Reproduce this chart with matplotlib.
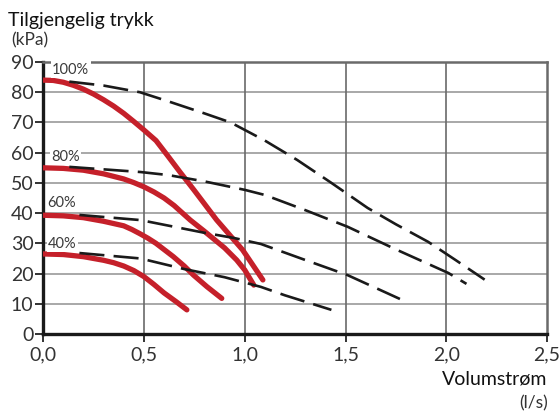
import matplotlib.pyplot as plt

plt.rcParams['font.family'] = ['Lato', 'DejaVu Sans']

# pump curves (red) per speed
red100_x = [0, 0.05, 0.1, 0.15, 0.2, 0.25, 0.3, 0.35, 0.4, 0.45, 0.5, 0.56, 0.62, 0.68, 0.75, 0.86, 0.99, 1.09]
red100_y = [84, 83.9, 83.3, 82.3, 81, 79.4, 77.5, 75.4, 73, 70.3, 67.5, 64, 58.8, 53.5, 47.5, 37.8, 27.8, 17.9]
red80_x = [0, 0.1, 0.2, 0.3, 0.4, 0.45, 0.5, 0.55, 0.6, 0.65, 0.73, 0.8, 0.9, 0.96, 1.0, 1.045]
red80_y = [55, 54.8, 54.2, 53, 51.3, 50.1, 48.7, 47, 45, 42.5, 37.7, 34, 28.5, 24.5, 21.2, 16.2]
red60_x = [0, 0.1, 0.2, 0.3, 0.4, 0.44, 0.48, 0.52, 0.56, 0.646, 0.7, 0.746, 0.812, 0.886]
red60_y = [39.3, 39.1, 38.5, 37.3, 35.8, 34.6, 33.2, 31.7, 30.0, 25.6, 22.5, 19.5, 15.7, 11.8]
red40_x = [0, 0.1, 0.2, 0.3, 0.35, 0.4, 0.45, 0.5, 0.55, 0.6, 0.66, 0.713]
red40_y = [26.5, 26.3, 25.6, 24.4, 23.6, 22.5, 21.0, 19.0, 16.4, 13.6, 10.7, 8]

# dashed curves per speed
dash100_x = [0.13, 0.3, 0.48, 0.62, 0.8, 0.93, 1.1, 1.26, 1.43, 1.61, 1.75, 1.91, 2.05, 2.19]
dash100_y = [83.5, 82.2, 80, 77, 73, 70, 64, 57.6, 50, 41.7, 36.3, 30.5, 24.3, 18]
dash80_x = [0.13, 0.483, 0.62, 0.8, 1.0, 1.1, 1.3, 1.51, 1.75, 2.01, 2.1]
dash80_y = [55.3, 53.6, 52.6, 50.5, 47.7, 46, 41, 35.5, 28, 20.2, 16.6]
dash60_x = [0.18, 0.483, 0.8, 0.945, 1.08, 1.3, 1.51, 1.77]
dash60_y = [39.4, 37.7, 33.5, 31.8, 29.8, 24.5, 19.5, 11.6]
dash40_x = [0.18, 0.483, 0.7, 0.9, 1.08, 1.2, 1.43]
dash40_y = [26.8, 25.0, 21.5, 18.8, 15.6, 12.8, 8]

speed_labels = ['100%', '80%', '60%', '40%']
label_x = [0.045, 0.04, 0.02, 0.025]
label_y = [87.4, 58.6, 43.4, 29.8]

xticks = [0, 0.5, 1.0, 1.5, 2.0, 2.5]
xticklabels = ['0,0', '0,5', '1,0', '1,5', '2,0', '2,5']
yticks = list(range(0, 100, 10))

red = '#c5202a'
ink = '#333333'

fig = plt.figure(figsize=(5.6, 4.16), dpi=100)
ax = fig.add_axes([0.077, 0.197, 0.9, 0.654])
ax.set_xlim(0, 2.5)
ax.set_ylim(0, 90)

# grid
for yv in yticks[1:-1]:
    ax.axhline(yv, color='#9a9a9a', lw=1.2, zorder=1)
for xv in xticks[1:-1]:
    ax.axvline(xv, color='#6a6a6a', lw=1.2, zorder=1)

for xs, ys in [(red100_x, red100_y), (red80_x, red80_y), (red60_x, red60_y), (red40_x, red40_y)]:
    ax.plot(xs, ys, color=red, lw=3.8, solid_capstyle='round', solid_joinstyle='round', zorder=3)
for xs, ys in [(dash100_x, dash100_y), (dash80_x, dash80_y), (dash60_x, dash60_y), (dash40_x, dash40_y)]:
    ax.plot(xs, ys, color='#1a1a1a', lw=1.9, dashes=(9.5, 3.5), zorder=4)

for t, lx, ly in zip(speed_labels, label_x, label_y):
    ax.text(lx, ly, t, fontsize=10.5, color='#3a3a3a', va='center', ha='left', zorder=5,
            bbox=dict(facecolor='white', edgecolor='none', pad=1.0))

ax.set_xticks(xticks)
ax.set_xticklabels(xticklabels)
ax.set_yticks(yticks)
ax.tick_params(axis='both', labelsize=14, colors=ink, length=6, width=1.4, pad=1)
ax.tick_params(axis='x', pad=3)

for side in ['left', 'bottom']:
    ax.spines[side].set_color('#1a1a1a')
    ax.spines[side].set_linewidth(2.4)
for side in ['top', 'right']:
    ax.spines[side].set_color('#6a6a6a')
    ax.spines[side].set_linewidth(1.8)

fig.text(0.014, 0.950, 'Tilgjengelig trykk', fontsize=14, color='#111111', ha='left', va='center')
fig.text(0.02, 0.902, '(kPa)', fontsize=12.5, color=ink, ha='left', va='center')
fig.text(0.978, 0.090, 'Volumstrøm', fontsize=14, color='#111111', ha='right', va='center')
fig.text(0.978, 0.030, '(l/s)', fontsize=12.5, color=ink, ha='right', va='center')

fig.savefig('out.png', dpi=100)
